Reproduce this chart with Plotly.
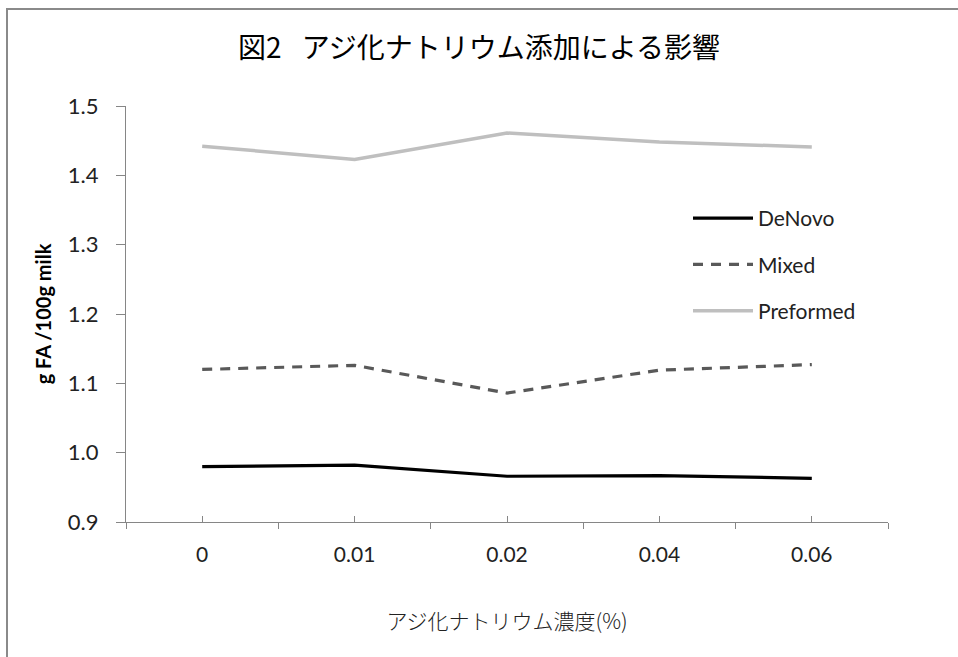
import plotly.graph_objects as go

# Sodium azide concentration (%) and fatty acid yield (g FA / 100 g milk)
concentrations = ["0", "0.01", "0.02", "0.04", "0.06"]
denovo = [0.980, 0.982, 0.966, 0.967, 0.963]
mixed = [1.120, 1.126, 1.086, 1.119, 1.127]
preformed = [1.442, 1.423, 1.461, 1.448, 1.441]

series_names = ["DeNovo", "Mixed", "Preformed"]
y_ticks = [0.9, 1.0, 1.1, 1.2, 1.3, 1.4, 1.5]

W, H = 958, 657
L, R, T, B = 126, 70, 106, 135
PW, PH = W - L - R, H - T - B

positions = list(range(len(concentrations)))
boundaries = [p - 0.5 for p in positions] + [positions[-1] + 0.5]

latin = "Lato, Calibri, 'Noto Sans', sans-serif"
narrow = "'Liberation Sans Narrow', 'Arial Narrow', Lato, sans-serif"
jp = "'Noto Sans CJK JP', 'MS PGothic', sans-serif"
axis_grey = "#868686"

fig = go.Figure()
styles = [
    dict(color="#000000", width=3.2, dash="solid"),
    dict(color="#595959", width=3.2, dash="10px,8px"),
    dict(color="#BFBFBF", width=3.5, dash="solid"),
]
for i, (name, vals, st) in enumerate(zip(series_names, [denovo, mixed, preformed], styles)):
    fig.add_trace(go.Scatter(
        x=positions, y=vals, name=name, mode="lines",
        line=dict(color=st["color"], width=st["width"], dash=st["dash"]),
        legendgroup=f"g{i}",
    ))

# Boundary ticks between categories, drawn on an overlaid axis
fig.add_trace(go.Scatter(x=[None], y=[None], xaxis="x2", showlegend=False, hoverinfo="skip"))

fig.update_layout(
    width=W, height=H,
    margin=dict(l=L, r=R, t=T, b=B, autoexpand=False),
    paper_bgcolor="white", plot_bgcolor="white",
    title=dict(
        text="図2\u2002 アジ化ナトリウム添加による影響",
        x=0.5, xanchor="center", y=1 - 48 / H, yanchor="middle",
        font=dict(family=jp, size=28, color="#000000"),
    ),
    xaxis=dict(
        range=[-0.5, len(concentrations) - 0.5],
        tickmode="array", tickvals=positions, ticktext=concentrations,
        ticks="inside", ticklen=6, tickcolor=axis_grey, tickwidth=1,
        showline=True, linecolor=axis_grey, linewidth=1.3,
        showgrid=False, zeroline=False,
        tickfont=dict(family=narrow, size=21, color="#222222"),
        ticklabelstandoff=14,
        title=dict(text="アジ化ナトリウム濃度(%)", standoff=48,
                   font=dict(family=jp, size=21, color="#222222", weight=300)),
    ),
    xaxis2=dict(
        overlaying="x", anchor="y",
        range=[-0.5, len(concentrations) - 0.5],
        tickmode="array", tickvals=boundaries,
        ticks="outside", ticklen=6, tickcolor=axis_grey, tickwidth=1,
        showticklabels=False, showgrid=False, zeroline=False, showline=False,
        side="bottom",
    ),
    yaxis=dict(
        range=[0.9, 1.5],
        tickmode="array", tickvals=y_ticks, ticktext=[f"{v:.1f}" for v in y_ticks],
        ticks="outside", ticklen=9, tickcolor=axis_grey, tickwidth=1,
        showline=True, linecolor=axis_grey, linewidth=1.3,
        showgrid=False, zeroline=False,
        tickfont=dict(family=latin, size=22, color="#222222"),
        ticklabelstandoff=13,
        title=dict(text="g FA /100g milk", standoff=10,
                   font=dict(family=latin, size=20, color="#000000", weight="bold")),
    ),
    legend=dict(
        x=(688 - L) / PW, xanchor="left",
        y=(H - B - 198) / PH, yanchor="top",
        bgcolor="rgba(0,0,0,0)", borderwidth=0,
        font=dict(family=latin, size=21, color="#222222"),
        traceorder="grouped", tracegroupgap=16,
        itemwidth=60,
    ),
    showlegend=True,
    shapes=[dict(
        type="rect", xref="paper", yref="paper",
        x0=(7 - L) / PW, x1=2.0,
        y0=-2.0, y1=(H - B - 9) / PH,
        line=dict(color="#8a8a8a", width=2), fillcolor="rgba(0,0,0,0)", layer="below",
    )],
)

fig.write_html("out.html")
